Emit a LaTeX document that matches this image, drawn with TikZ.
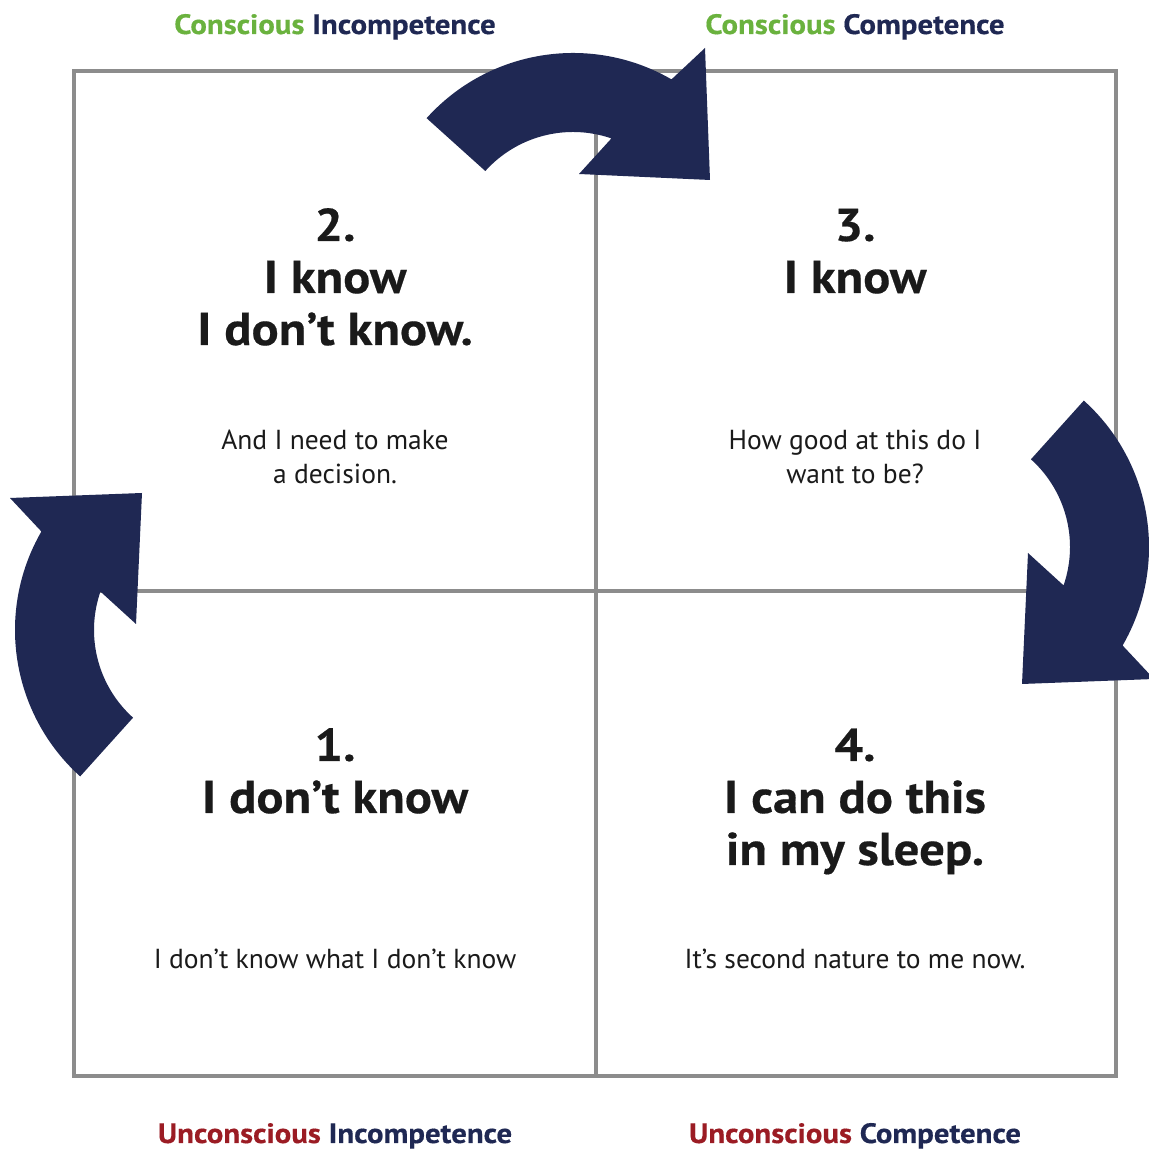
\documentclass[tikz,border=0pt]{standalone}
\usepackage{fontspec}
\setmainfont{PT Sans}[BoldFeatures={FakeStretch=1.1, FakeBold=0.4}]
\usepackage{xcolor}
\usepackage{tikz}
\usetikzlibrary{positioning}

\definecolor{navy}{HTML}{1F2853}
\definecolor{leafgreen}{HTML}{6AB23E}
\definecolor{darkred}{HTML}{9B1C24}
\definecolor{gridgray}{HTML}{8C8C8C}
\definecolor{inkblack}{HTML}{1A1A1A}

\tikzset{
  % one curved block arrow, drawn about its own centre
  turnarrow/.pic={
    \fill[navy] (138:197) arc[start angle=138, end angle=60, radius=197pt]
      -- (132,202) -- (137,70) -- (6,76) -- (71:118)
      arc[start angle=71, end angle=138, radius=118pt] -- cycle;
  }
}

\begin{document}
\begin{tikzpicture}[
          x=1pt, y=1pt,
          gridline/.style={draw=gridgray, line width=4.5pt},
          headline/.style={font=\fontsize{46}{52}\selectfont\bfseries, text=inkblack, inner sep=0pt, anchor=base},
          notetext/.style={font=\fontsize{27.5}{34}\selectfont, text=inkblack, inner sep=0pt, anchor=base},
          stagelabel/.style={font=\fontsize{28}{30}\selectfont\bfseries, inner sep=0pt, anchor=base}
        ]
          \useasboundingbox (0,0) rectangle (1149,1149);
          \clip (0,0) rectangle (1149,1149);
          \fill[white] (0,0) rectangle (1149,1149);

          % the four quadrants
          \draw[gridline] (74,73) rectangle (1116,1078);
          \draw[gridline] (596,73) -- (596,1078);
          \draw[gridline] (74,558) -- (1116,558);

          % arrows round the cycle
          \pic (up)    at (573,899)            {turnarrow};
          \pic (left)  at (212,519) [rotate=90]  {turnarrow};
          \pic (right) at (952,602) [rotate=-90] {turnarrow};

          % stage names
          \node[stagelabel] (ci) at (335,1115) {\textcolor{leafgreen}{Conscious} \textcolor{navy}{Incompetence}};
          \node[stagelabel] (cc) at (855,1115) {\textcolor{leafgreen}{Conscious} \textcolor{navy}{Competence}};
          \node[stagelabel] (ui) at (335,6) {\textcolor{darkred}{Unconscious} \textcolor{navy}{Incompetence}};
          \node[stagelabel] (uc) at (855,6) {\textcolor{darkred}{Unconscious} \textcolor{navy}{Competence}};

          % 2
          \node[headline] (num2) at (335,908) {2.};
          \node[headline, below=52pt of num2.base, anchor=base] (know2) {I know};
          \node[headline, below=52pt of know2.base, anchor=base] (dont2) {I don’t know.};
          \node[notetext] (note2a) at (335,699) {And I need to make};
          \node[notetext, below=34pt of note2a.base, anchor=base] (note2b) {a decision.};

          % 3
          \node[headline] (num3) at (855,908) {3.};
          \node[headline, below=52pt of num3.base, anchor=base] (know3) {I know};
          \node[notetext] (note3a) at (855,699) {How good at this do I};
          \node[notetext, below=34pt of note3a.base, anchor=base] (note3b) {want to be?};

          % 1
          \node[headline] (num1) at (335,388) {1.};
          \node[headline, below=52pt of num1.base, anchor=base] (dont1) {I don’t know};
          \node[notetext] (note1) at (335,180) {I don’t know what I don’t know};

          % 4
          \node[headline] (num4) at (855,388) {4.};
          \node[headline, below=52pt of num4.base, anchor=base] (can4) {I can do this};
          \node[headline, below=52pt of can4.base, anchor=base] (sleep4) {in my sleep.};
          \node[notetext] (note4) at (855,180) {It’s second nature to me now.};
        \end{tikzpicture}
\end{document}
